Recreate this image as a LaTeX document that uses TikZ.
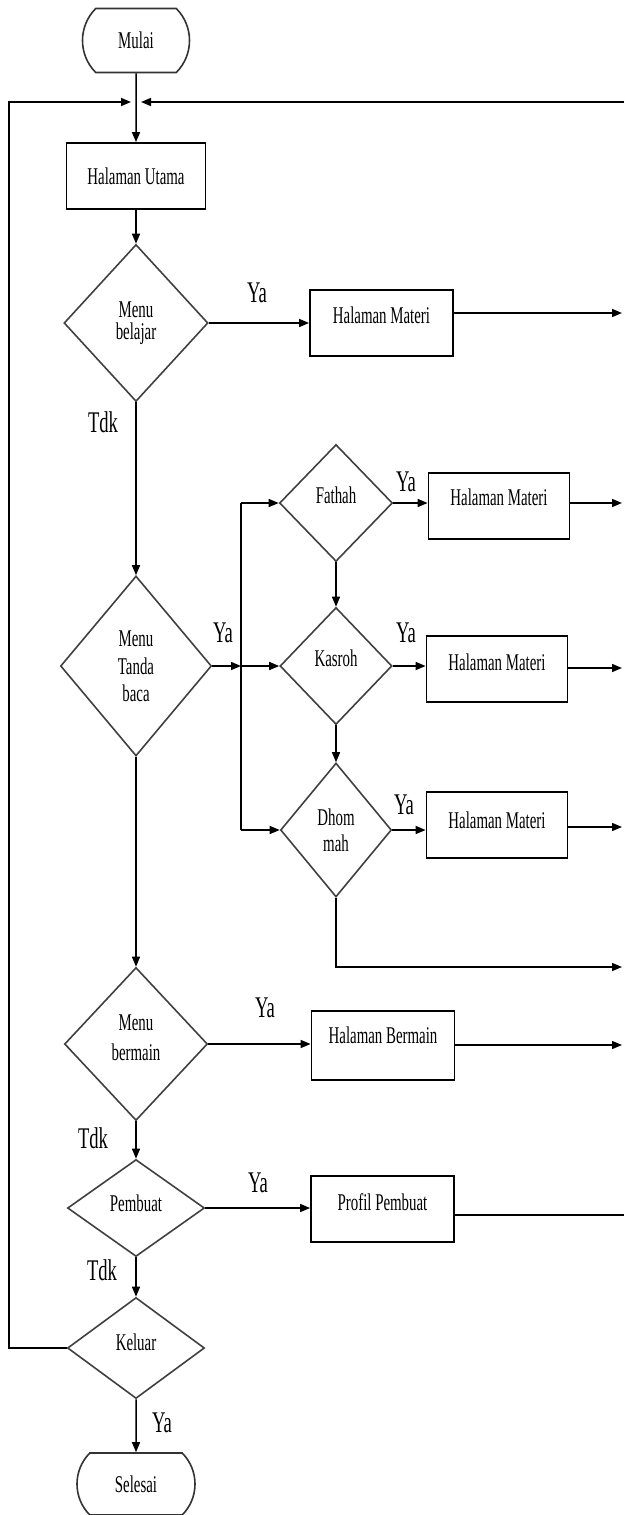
\documentclass[tikz,border=0pt]{standalone}
\usepackage{fontspec}
\setmainfont{Liberation Serif}[FakeStretch=0.62]
\usetikzlibrary{shapes.geometric,shapes.misc,arrows.meta}
\begin{document}
\begin{tikzpicture}[x=1pt,y=-1pt,
  line width=1.5pt,
  font=\fontsize{24}{22}\selectfont,
  arr/.style={-{Triangle[length=10pt,width=8pt]}},
  box/.style={draw, rectangle, line width=1.8pt, minimum width=#1, minimum height=66pt, inner sep=0pt},
  box/.default=143pt,
  dia/.style={draw=black!75, line width=1.6pt, diamond, inner sep=0pt, align=center},
  term/.style={draw=black!80, line width=1.6pt, rounded rectangle, rounded rectangle arc length=90, inner sep=0pt},
  lbl/.style={font=\fontsize{30}{30}\selectfont, inner sep=0pt}]
\useasboundingbox (0,0) rectangle (624,1515);

% main column
\node[term, minimum width=107pt, minimum height=64pt] (mulai) at (136,40.5) {Mulai};
\node[box=139pt] (utama) at (136,176) {Halaman Utama};
\node[dia, minimum width=144pt, minimum height=157pt] (belajar) at (136,323) {Menu\\belajar};
\node[box, label={[yshift=8pt]center:Halaman Materi}] (hm1) at (381.5,323) {};
\node[dia, minimum width=151pt, minimum height=180pt] (tanda) at (136,666) {Menu\\[6pt]Tanda\\[5pt]baca};
\node[dia, minimum width=143pt, minimum height=153pt, label={[yshift=6pt,align=center]center:Menu\\[8pt]bermain}] (bermain) at (136,1044) {};
\node[box, minimum height=69pt, label={[yshift=10pt]center:Halaman Bermain}] (hb) at (383,1045.5) {};
\node[dia, minimum width=137pt, minimum height=97pt, label={[yshift=5pt]center:Pembuat}] (pembuat) at (136,1208) {};
\node[box, label={[yshift=7pt]center:Profil Pembuat}] (profil) at (382.5,1209) {};
\node[dia, minimum width=137pt, minimum height=101pt, label={[yshift=6pt]center:Keluar}] (keluar) at (136,1348) {};
\node[term, minimum width=118pt, minimum height=62pt] (selesai) at (136,1484) {Selesai};

% tanda baca branch
\node[dia, minimum width=113pt, minimum height=117pt, label={[yshift=8pt]center:Fathah}] (fathah) at (336,503) {};
\node[dia, minimum width=112pt, minimum height=117pt, label={[yshift=8pt]center:Kasroh}] (kasroh) at (336,666) {};
\node[dia, minimum width=111pt, minimum height=134pt] (dhommah) at (336,830) {Dhom\\[4pt]mah};
\node[box=141pt, label={[yshift=9pt]center:Halaman Materi}] (hm2) at (499,506) {};
\node[box=141pt, label={[yshift=7pt]center:Halaman Materi}] (hm3) at (497,669) {};
\node[box=141pt, label={[yshift=5pt]center:Halaman Materi}] (hm4) at (497,825) {};

% coordinates
\coordinate (br) at (241,666);
\coordinate (brtop) at (241,503);
\coordinate (brbot) at (241,830);
\coordinate (r1) at (622,313);
\coordinate (r2) at (622,503);
\coordinate (r3) at (622,668);
\coordinate (r4) at (622,827);
\coordinate (r5) at (622,967);
\coordinate (r6) at (622,1045);
\coordinate (r7) at (624,1215);
\coordinate (lb) at (9,1348);
\coordinate (lt) at (9,102);
\coordinate (lend) at (131,102);
\coordinate (rstart) at (624,102);
\coordinate (rend) at (141,102);

% main flow
\draw[arr] (mulai) -- (utama);
\draw[arr] (utama) -- (belajar);
\draw[arr] (belajar) -- (tanda);
\draw[arr] (tanda) -- (bermain);
\draw[arr] (bermain) -- (pembuat);
\draw[arr] (pembuat) -- (keluar);
\draw[arr] (keluar) -- (selesai);

% Ya branches
\draw[arr] (belajar.east) -- (belajar.east -| hm1.west);
\draw[arr] (hm1.east |- r1) -- (r1);
\draw[arr] (tanda.east) -- (br);
\draw (brtop) -- (brbot);
\draw[arr] (br) -- (kasroh.west);
\draw[arr] (brtop) -- (fathah.west);
\draw[arr] (brbot) -- (dhommah.west);
\draw[arr] (fathah.east) -- (fathah.east -| hm2.west);
\draw[arr] (kasroh.east) -- (kasroh.east -| hm3.west);
\draw[arr] (dhommah.east) -- (dhommah.east -| hm4.west);
\draw[arr] (fathah) -- (kasroh);
\draw[arr] (kasroh) -- (dhommah);
\draw[arr] (hm2.east |- r2) -- (r2);
\draw[arr] (hm3.east |- r3) -- (r3);
\draw[arr] (hm4.east |- r4) -- (r4);
\draw[arr] (dhommah.south) |- (r5);
\draw[arr] (bermain.east) -- (bermain.east -| hb.west);
\draw[arr] (hb.east |- r6) -- (r6);
\draw[arr] (pembuat.east) -- (pembuat.east -| profil.west);
\draw (profil.east |- r7) -- (r7);

% loops
\draw[arr] (keluar.west) -- (lb) -- (lt) -- (lend);
\draw[arr] (rstart) -- (rend);

% labels
\node[lbl] (ya1) at (257,293) {Ya};
\node[lbl] (ya2) at (223,633) {Ya};
\node[lbl] (ya3) at (406,482) {Ya};
\node[lbl] (ya4) at (406,633) {Ya};
\node[lbl] (ya5) at (404,805) {Ya};
\node[lbl] (ya6) at (265,1008) {Ya};
\node[lbl] (ya7) at (258,1183) {Ya};
\node[lbl] (ya8) at (162,1423) {Ya};
\node[lbl] (tdk1) at (103,422) {Tdk};
\node[lbl] (tdk2) at (93,1138) {Tdk};
\node[lbl] (tdk3) at (102,1270) {Tdk};
\end{tikzpicture}
\end{document}
